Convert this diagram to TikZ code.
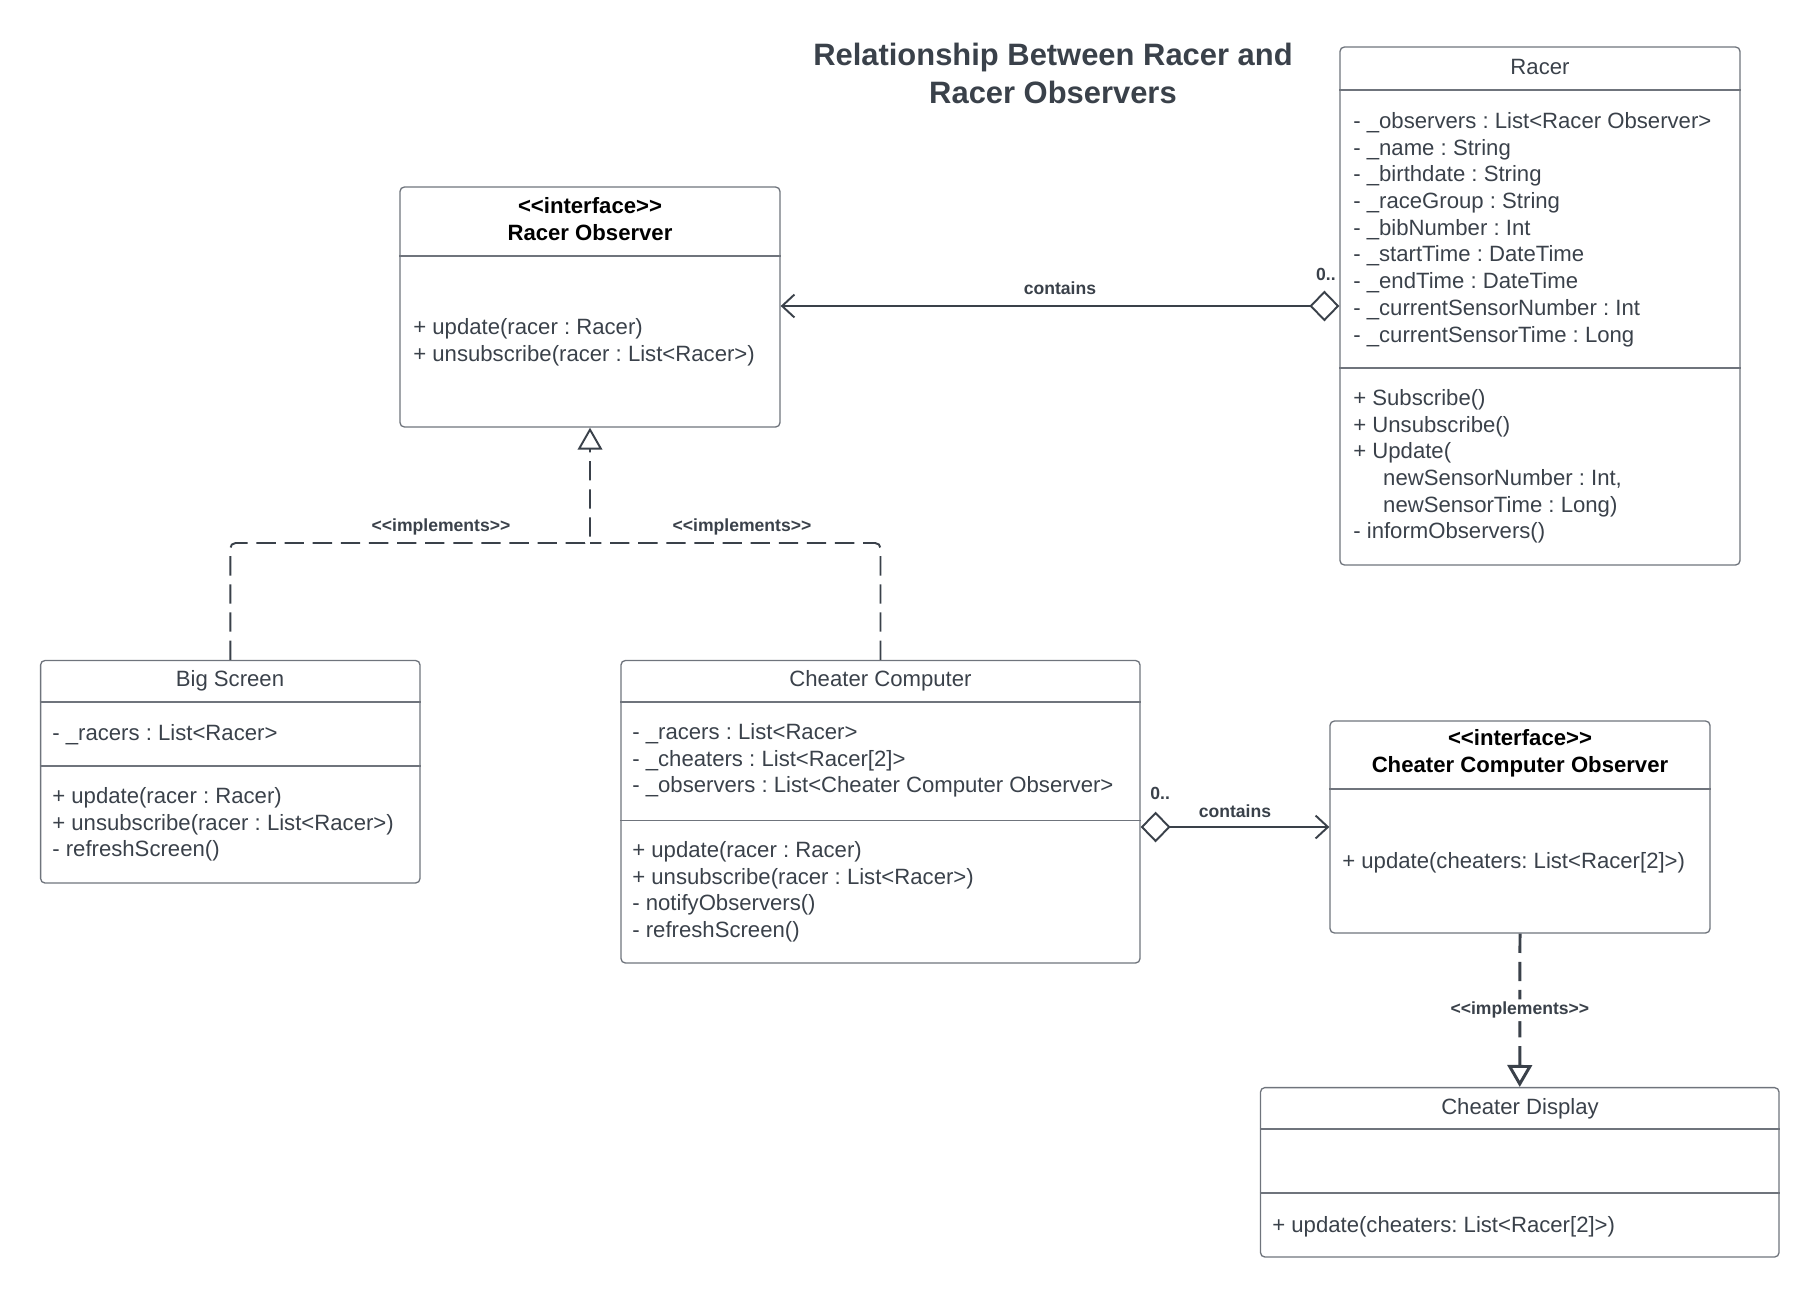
\documentclass[tikz,border=0pt]{standalone}
\usepackage{fontspec}
\setmainfont{Liberation Sans}
\usepackage{tikz}
\usetikzlibrary{positioning,arrows.meta,fit,calc}
\usepackage{xcolor}
\definecolor{umlink}{HTML}{3A414A}
\definecolor{umledge}{HTML}{6F747C}
\frenchspacing
\newcommand{\memberfont}{\fontsize{12.6}{15.2}\selectfont}
\newcommand{\edgefont}{\fontsize{10}{12}\selectfont\bfseries}
\newcommand{\stereo}[1]{<\kern0pt<#1>\kern0pt>}
\tikzset{
  classbox/.style={draw=umledge, line width=0.75pt, rounded corners=2.5pt, inner sep=0pt},
  divider/.style={draw=umledge, line width=0.75pt},
  classname/.style={font=\memberfont, text=umlink, inner sep=0pt, text height=9pt, text depth=0pt},
  ifacename/.style={font=\memberfont\bfseries, text=black, inner sep=0pt, align=center, anchor=north, execute at begin node=\strut},
  members/.style={font=\memberfont, text=umlink, inner sep=0pt, align=left, anchor=north west, execute at begin node=\strut},
  edgetag/.style={font=\edgefont, text=umlink, inner sep=0pt},
  contains/.style={draw=umlink, line width=1.1pt, {Diamond[open, length=17pt, width=17.5pt]}-{Straight Barb[length=7pt, width=13pt]}},
  realize/.style={draw=umlink, line width=1.1pt, dash pattern=on 11pt off 5pt, rounded corners=3pt},
  realize tip/.style={-{Triangle[open, length=12.5pt, width=14pt]}}
}

\begin{document}
\begin{tikzpicture}[x=0.02cm, y=-0.02cm]
\useasboundingbox (0,0) rectangle (1820,1299);

\node[font=\fontsize{17.6}{21.6}\selectfont\bfseries, text=umlink, align=center, anchor=north, inner sep=0pt, execute at begin node=\strut] (title) at (1053,42.5) {Relationship Between Racer and\\Racer Observers};

%====================================================
% RACER OBSERVER (interface)
%====================================================
\node[classbox, fit={(400,187) (780,427)}] (ro) {};
\draw[divider] (ro.west |- 0,256) -- (ro.east |- 0,256);
\node[ifacename] (ro-name) at (590,197.5) {\stereo{interface}\\Racer Observer};
\node[members] (ro-ops) at (413,318) {+ update(racer : Racer)\\+ unsubscribe(racer : List<Racer>)};

%====================================================
% RACER
%====================================================
\node[classbox, fit={(1340,47) (1740,565)}] (racer) {};
\draw[divider] (racer.west |- 0,90) -- (racer.east |- 0,90);
\draw[divider] (racer.west |- 0,368) -- (racer.east |- 0,368);
\node[classname] (racer-name) at (1540,67) {Racer};
\node[members] (racer-attrs) at (1353,112) {- \_observers : List<Racer Observer>\\- \_name : String\\- \_birthdate : String\\- \_raceGroup : String\\- \_bibNumber : Int\\- \_startTime : DateTime\\- \_endTime : DateTime\\- \_currentSensorNumber : Int\\- \_currentSensorTime : Long};
\node[members] (racer-ops) at (1353,389) {+ Subscribe()\\+ Unsubscribe()\\+ Update(\\\hspace*{17pt}newSensorNumber : Int,\\\hspace*{17pt}newSensorTime : Long)\\- informObservers()};

%====================================================
% BIG SCREEN
%====================================================
\node[classbox, fit={(40.6,660.5) (420,883)}] (bs) {};
\draw[divider] (bs.west |- 0,702) -- (bs.east |- 0,702);
\draw[divider] (bs.west |- 0,766) -- (bs.east |- 0,766);
\node[classname] (bs-name) at (230,679) {Big Screen};
\node[members] (bs-attrs) at (52,721) {- \_racers : List<Racer>};
\node[members] (bs-ops) at (52,787) {+ update(racer : Racer)\\+ unsubscribe(racer : List<Racer>)\\- refreshScreen()};

%====================================================
% CHEATER COMPUTER
%====================================================
\node[classbox, fit={(621,660.5) (1140,963)}] (cc) {};
\draw[divider] (cc.west |- 0,702) -- (cc.east |- 0,702);
\draw[divider] (cc.west |- 0,820.6) -- (cc.east |- 0,820.6);
\node[classname] (cc-name) at (880.5,679) {Cheater Computer};
\node[members] (cc-attrs) at (632,723) {- \_racers : List<Racer>\\- \_cheaters : List<Racer[2]>\\- \_observers : List<Cheater Computer Observer>};
\node[members] (cc-ops) at (632,841) {+ update(racer : Racer)\\+ unsubscribe(racer : List<Racer>)\\- notifyObservers()\\- refreshScreen()};

%====================================================
% CHEATER COMPUTER OBSERVER (interface)
%====================================================
\node[classbox, fit={(1330,721) (1710,933)}] (cco) {};
\draw[divider] (cco.west |- 0,789) -- (cco.east |- 0,789);
\node[ifacename] (cco-name) at (1520,729.5) {\stereo{interface}\\Cheater Computer Observer};
\node[members] (cco-ops) at (1342,849) {+ update(cheaters: List<Racer[2]>)};

%====================================================
% CHEATER DISPLAY
%====================================================
\node[classbox, fit={(1260.5,1087.6) (1779,1257)}] (cd) {};
\draw[divider] (cd.west |- 0,1129) -- (cd.east |- 0,1129);
\draw[divider] (cd.west |- 0,1193) -- (cd.east |- 0,1193);
\node[classname] (cd-name) at (1520,1107) {Cheater Display};
\node[members] (cd-ops) at (1272,1213) {+ update(cheaters: List<Racer[2]>)};

%====================================================
% RELATIONS
%====================================================
\draw[contains] (racer.west) -- (racer.west -| ro.east)
  node[edgetag, midway, above=6pt] (contains-a) {contains}
  node[edgetag, pos=0, anchor=south east, xshift=-1.5pt, yshift=14pt] (mult-a) {0..};
\draw[contains] (cco.west -| cc.east) -- (cco.west)
  node[edgetag, midway, above=5pt] (contains-b) {contains}
  node[edgetag, pos=0, anchor=south west, xshift=5pt, yshift=15pt] (mult-b) {0..};

\coordinate (merge) at (ro.south |- 0,543);
\draw[realize, realize tip] (bs.north) |- (merge) -- (ro.south);
\draw[realize] (cc.north) |- (merge);
\node[edgetag, anchor=base] (impl-a) at (441,531) {\stereo{implements}};
\node[edgetag, anchor=base] (impl-b) at (742,531) {\stereo{implements}};

\draw[realize, realize tip, line width=1.7pt] (cco.south) -- (cd.north)
  node[edgetag, midway, fill=white, inner sep=1.5pt] (impl-c) {\stereo{implements}};
\end{tikzpicture}
\end{document}
